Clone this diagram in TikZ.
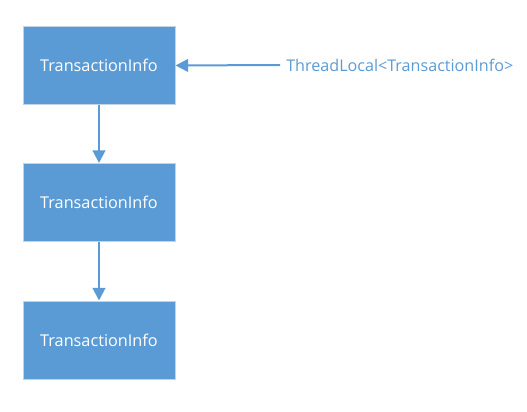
\documentclass[tikz,border=0pt]{standalone}
\usepackage{fontspec}
\setmainfont{Open Sans}
\usetikzlibrary{arrows.meta}
\definecolor{infoblue}{HTML}{5B9BD5}
\definecolor{infoedge}{HTML}{C3D3E6}
\begin{document}
\begin{tikzpicture}[x=0.75pt,y=0.75pt,
	infobox/.style={draw=infoedge,fill=infoblue,text=white,line width=0.75pt,
		minimum width=114pt,minimum height=58.5pt,inner sep=0pt,
		font=\fontsize{12.2}{14}\selectfont},
	link/.style={draw=infoblue,line width=1.5pt,-{Triangle[length=9.5pt,width=9.5pt]}}]
				\useasboundingbox (0,0) rectangle (527,411);
				\node[infobox] (info1) at (99,345.5) {TransactionInfo};
				\node[infobox] (info2) at (99,208.5) {TransactionInfo};
				\node[infobox] (info3) at (99,71) {TransactionInfo};
				\node[text=infoblue,anchor=west,inner sep=0pt,
					font=\fontsize{12.1}{14}\selectfont] (local) at (286,346) {ThreadLocal<TransactionInfo>};
				\coordinate (localend) at (280,346);
				\draw[link] (info1) -- (info2);
				\draw[link] (info2) -- (info3);
				\draw[link] (localend) -- (info1.east);
			\end{tikzpicture}
\end{document}
